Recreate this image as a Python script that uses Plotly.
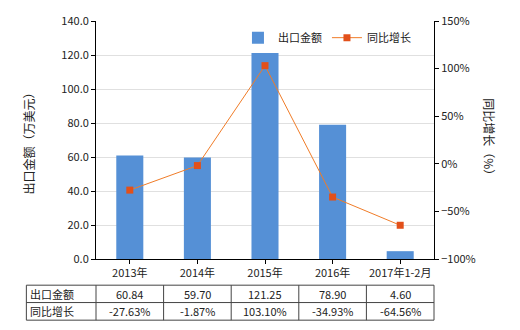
import plotly.graph_objects as go

categories = ["2013年", "2014年", "2015年", "2016年", "2017年1-2月"]
export_values = [60.84, 59.70, 121.25, 78.90, 4.60]
growth_values = [-27.63, -1.87, 103.10, -34.93, -64.56]
export_labels = ["60.84", "59.70", "121.25", "78.90", "4.60"]
growth_labels = ["-27.63%", "-1.87%", "103.10%", "-34.93%", "-64.56%"]
row_names = ["出口金额", "同比增长"]

FONT = "Noto Sans CJK SC, Microsoft YaHei, sans-serif"
TXT = "#222222"

fig = go.Figure()
fig.add_trace(go.Bar(
    x=categories, y=export_values, name="出口金额",
    marker=dict(color="#5590D6", line=dict(width=0)), width=0.4, yaxis="y"))
fig.add_trace(go.Scatter(
    x=categories, y=growth_values, name="同比增长", yaxis="y2",
    mode="lines+markers",
    line=dict(color="#F07C28", width=1),
    marker=dict(symbol="square", size=7, color="#E2501A")))

# table
top, mid, bot = -0.11, -0.183, -0.257
left = -0.206
shapes = []
line_style = dict(color="#444444", width=1)
for yy in (top, mid, bot):
    shapes.append(dict(type="line", xref="paper", yref="paper", x0=left, x1=1, y0=yy, y1=yy, line=line_style))
shapes.append(dict(type="line", xref="paper", yref="paper", x0=left, x1=left, y0=top, y1=bot, line=line_style))
n = len(categories)
for i in range(n + 1):
    xx = i / n
    shapes.append(dict(type="line", xref="paper", yref="paper", x0=xx, x1=xx, y0=top, y1=bot, line=line_style))

annotations = []
for j, (name, yy) in enumerate(zip(row_names, [(top + mid) / 2, (mid + bot) / 2])):
    annotations.append(dict(x=left + 0.006, y=yy, xref="paper", yref="paper", text=name,
                            showarrow=False, xanchor="left", yanchor="middle",
                            font=dict(size=11, color=TXT, family=FONT)))
for cat, a, b in zip(categories, export_labels, growth_labels):
    annotations.append(dict(x=cat, y=(top + mid) / 2, xref="x", yref="paper", text=a,
                            showarrow=False, xanchor="center", yanchor="middle",
                            font=dict(size=11, color=TXT, family=FONT)))
    annotations.append(dict(x=cat, y=(mid + bot) / 2, xref="x", yref="paper", text=b,
                            showarrow=False, xanchor="center", yanchor="middle",
                            font=dict(size=11, color=TXT, family=FONT)))

# axis titles
annotations.append(dict(x=-0.2, y=0.5, xref="paper", yref="paper", text="出口金额（万美元）",
                        textangle=-90, showarrow=False, xanchor="center", yanchor="middle",
                        font=dict(size=12, color=TXT, family=FONT)))
annotations.append(dict(x=1.165, y=0.5, xref="paper", yref="paper", text="同比增长（%）",
                        textangle=90, showarrow=False, xanchor="center", yanchor="middle",
                        font=dict(size=12, color=TXT, family=FONT)))

fig.update_layout(
    width=520, height=330,
    margin=dict(l=96, r=86, t=19, b=71),
    paper_bgcolor="white", plot_bgcolor="white",
    font=dict(family=FONT, size=11, color=TXT),
    bargap=0.6,
    showlegend=True,
    legend=dict(orientation="h", x=0.42, y=0.93, xanchor="left", yanchor="middle",
                bgcolor="rgba(0,0,0,0)", font=dict(size=11, color=TXT, family=FONT),
                itemwidth=30, tracegroupgap=0),
    xaxis=dict(type="category", showline=True, linecolor="#000000", linewidth=1,
               ticks="outside", ticklen=4, tickcolor="#000000", showgrid=False,
               tickfont=dict(size=11, color=TXT), range=[-0.5, 4.5]),
    yaxis=dict(range=[0, 140], dtick=20, tickformat=".1f", showline=True,
               linecolor="#000000", linewidth=1, ticks="outside", ticklen=4,
               tickcolor="#000000", showgrid=True, gridcolor="#E0E0E0",
               zeroline=False, tickfont=dict(size=11, color=TXT)),
    yaxis2=dict(range=[-100, 150], dtick=50, ticksuffix="%", overlaying="y", side="right",
                showline=True, linecolor="#000000", linewidth=1, ticks="outside",
                ticklen=4, tickcolor="#000000", showgrid=False, zeroline=False,
                tickfont=dict(size=11, color=TXT)),
    shapes=shapes,
    annotations=annotations,
)

fig.write_html("out.html")
